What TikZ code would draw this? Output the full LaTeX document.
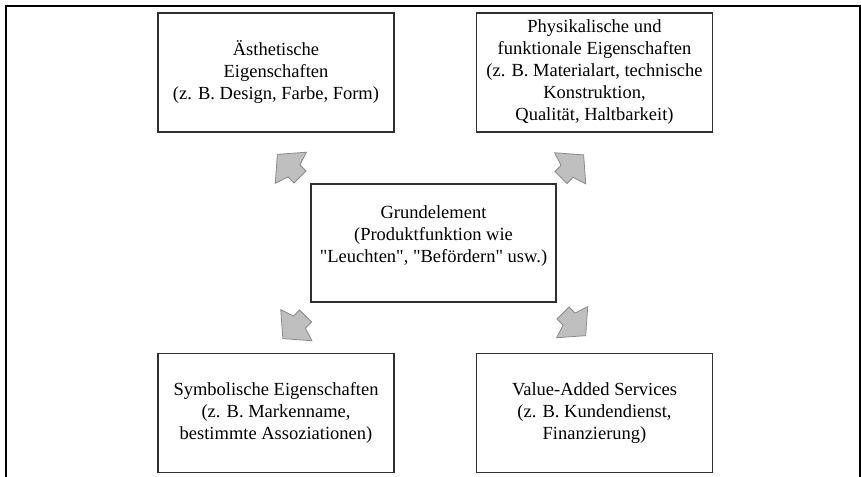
\documentclass[tikz,border=0pt]{standalone}
\usepackage{fontspec}
\newfontfamily\boxfont{Liberation Serif}
\usetikzlibrary{positioning}
\definecolor{arrowfill}{HTML}{BFBFBF}
\definecolor{arrowline}{HTML}{8A8A8A}
\definecolor{boxline}{HTML}{303030}

\begin{document}
\begin{tikzpicture}[x=1pt, y=-1pt,
        textbox/.style={rectangle, draw=boxline, line width=1.2pt, minimum width=236pt, minimum height=119pt, align=center, inner sep=0pt, font=\boxfont\fontsize{18.5}{22}\selectfont},
        centerbox/.style={textbox, minimum width=245pt, minimum height=118pt},
        blockarrow/.style={fill=arrowfill, draw=arrowline, line width=0.8pt, line join=miter},
        fatarrow/.pic={\draw[blockarrow] (0,8.5) -- (8.6,8.5) -- (13,22) -- (32,0) -- (13,-22) -- (8.6,-8.5) -- (0,-8.5) -- cycle;},
        ]
        \useasboundingbox (0,0) rectangle (861,476);
        %Frame
        \draw[line width=2pt] (6,480) -- (6,6) -- (860,6) -- (860,480);

        %Nodes
        \node[centerbox] (grund) at (433.5,243) {Grundelement\\(Produktfunktion wie\\"Leuchten", "Befördern" usw.)\\[-4pt]};
        \node[textbox] (aesth) at (276,72.5) {Ästhetische\\Eigenschaften\\(z. B. Design, Farbe, Form)};
        \node[textbox] (phys) at (594.5,72.5) {Physikalische und\\funktionale Eigenschaften\\(z. B. Materialart, technische\\Konstruktion,\\Qualität, Haltbarkeit)};
        \node[textbox] (symb) at (276,413) {Symbolische Eigenschaften\\(z. B. Markenname,\\bestimmte Assoziationen)};
        \node[textbox] (service) at (594.5,413) {Value-Added Services\\(z. B. Kundendienst,\\Finanzierung)};

        %Arrows
        \pic[rotate=135] at (300,177) {fatarrow};
        \pic[rotate=45] at (561,177.5) {fatarrow};
        \pic[rotate=225] at (305.5,316) {fatarrow};
        \pic[rotate=315] at (563,313) {fatarrow};
    \end{tikzpicture}
\end{document}
